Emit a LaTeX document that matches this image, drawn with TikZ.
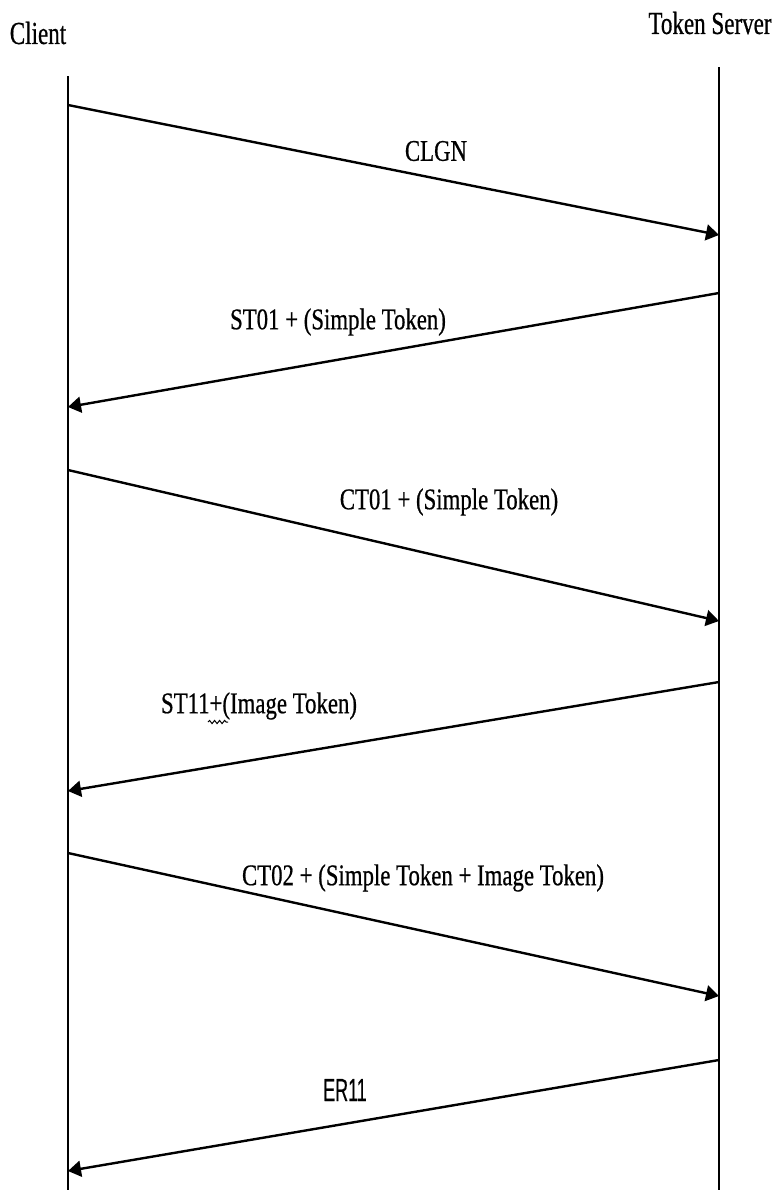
\documentclass[tikz,border=0pt]{standalone}
\usepackage{fontspec}
\newfontfamily\headfont[FakeStretch=0.72, FakeBold=0.6]{Liberation Serif}
\newfontfamily\msgfont[FakeStretch=0.76, FakeBold=0.6]{Liberation Serif}
\newfontfamily\errfont[FakeStretch=0.56, FakeBold=0.4]{Liberation Sans}
\usetikzlibrary{arrows.meta,decorations.pathmorphing}
\tikzset{
  actor/.style={font=\headfont\fontsize{16}{18}\selectfont, inner sep=0pt},
  lifeline/.style={draw=black, line width=1pt},
  msg/.style={-{Triangle[length=6.5pt, width=8pt]}, line width=1.2pt},
  lbl/.style={font=\msgfont\fontsize{15}{17}\selectfont, inner sep=0pt},
  errlbl/.style={font=\errfont\fontsize{16}{18}\selectfont, inner sep=0pt},
}

\begin{document}
\begin{tikzpicture}[x=0.5pt, y=-0.5pt]
  \useasboundingbox (0,0) rectangle (779,1190);
  % actors
  \node[actor] (client) at (38,33) {Client};
  \node[actor] (server) at (710,23) {Token Server};
  % lifelines
  \coordinate (ctop) at (68,76);
  \coordinate (cbot) at (68,1190);
  \coordinate (stop) at (719,67);
  \coordinate (sbot) at (719,1190);
  \draw[lifeline] (ctop) -- (cbot);
  \draw[lifeline] (stop) -- (sbot);
  % message ends
  \coordinate (c1) at (68,105);   \coordinate (s1) at (719,235);
  \coordinate (s2) at (719,293);  \coordinate (c2) at (68,407);
  \coordinate (c3) at (68,470);   \coordinate (s3) at (719,621);
  \coordinate (s4) at (719,682);  \coordinate (c4) at (68,791);
  \coordinate (c5) at (68,853);   \coordinate (s5) at (719,996);
  \coordinate (s6) at (719,1060); \coordinate (c6) at (68,1171);
  % messages
  \draw[msg] (c1) -- (s1);
  \draw[msg] (s2) -- (c2);
  \draw[msg] (c3) -- (s3);
  \draw[msg] (s4) -- (c4);
  \draw[msg] (c5) -- (s5);
  \draw[msg] (s6) -- (c6);
  % labels
  \node[lbl] (clgn) at (436,151) {CLGN};
  \node[lbl] (st01) at (338,322) {ST01 + (Simple Token)};
  \node[lbl] (ct01) at (449,502) {CT01 + (Simple Token)};
  \node[lbl] (st11) at (259,706) {ST11+(Image Token)};
  \node[lbl] (ct02) at (423,878) {CT02 + (Simple Token + Image Token)};
  \node[errlbl] (er11) at (345,1090) {ER11};
  % spell-check squiggle
  \draw[line width=0.5pt, decorate, decoration={snake, amplitude=0.8pt, segment length=2.5pt}]
    (208,722) -- (228,722);
\end{tikzpicture}
\end{document}
